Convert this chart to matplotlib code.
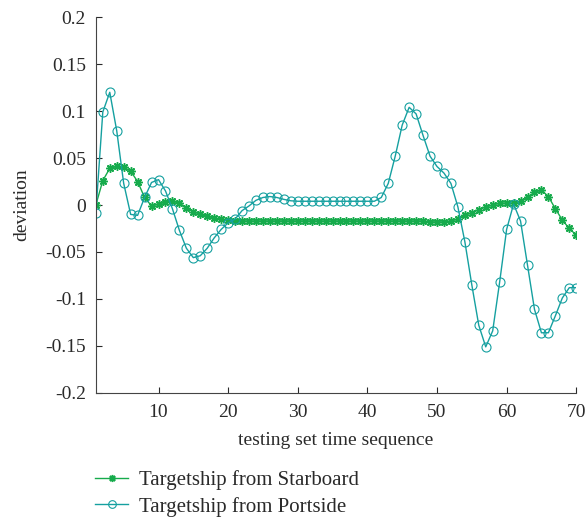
import matplotlib
matplotlib.use("Agg")
import matplotlib.pyplot as plt
import numpy as np

plt.rcParams['font.family'] = ['Liberation Serif', 'DejaVu Serif']

# testing set time sequence 1..70
seq = np.arange(1, 71)

starboard = [
    0.000, 0.026, 0.039, 0.041, 0.040, 0.036, 0.025, 0.008, -0.001, 0.001,
    0.003, 0.004, 0.002, -0.003, -0.007, -0.010, -0.012, -0.014, -0.015, -0.016,
    -0.0165, -0.017, -0.017, -0.017, -0.017, -0.017, -0.017, -0.017, -0.017, -0.017,
    -0.017, -0.017, -0.017, -0.017, -0.017, -0.017, -0.017, -0.017, -0.017, -0.017,
    -0.017, -0.017, -0.017, -0.017, -0.017, -0.017, -0.017, -0.017, -0.018, -0.018,
    -0.018, -0.017, -0.015, -0.011, -0.008, -0.005, -0.002, 0.000, 0.002, 0.002,
    0.002, 0.004, 0.008, 0.0135, 0.016, 0.009, -0.004, -0.016, -0.025, -0.032,
]

portside = [
    -0.008, 0.099, 0.120, 0.079, 0.023, -0.010, -0.011, 0.008, 0.024, 0.027,
    0.015, -0.004, -0.027, -0.046, -0.056, -0.054, -0.046, -0.035, -0.026, -0.019,
    -0.015, -0.006, -0.001, 0.005, 0.008, 0.009, 0.008, 0.006, 0.0045, 0.004,
    0.004, 0.004, 0.004, 0.004, 0.004, 0.004, 0.004, 0.004, 0.004, 0.004,
    0.004, 0.008, 0.023, 0.052, 0.085, 0.104, 0.097, 0.074, 0.052, 0.041,
    0.034, 0.023, -0.002, -0.039, -0.085, -0.128, -0.151, -0.134, -0.082, -0.026,
    0.001, -0.017, -0.064, -0.111, -0.136, -0.136, -0.118, -0.099, -0.088, -0.088,
]

green = '#16ab4c'
teal = '#15a0a0'
txt = '#2a2a2a'

fig = plt.figure(figsize=(5.88, 5.19), dpi=100)
ax = fig.add_axes([0.163, 0.243, 0.817, 0.724])

ax.plot(seq, starboard, color=green, lw=1.0, marker=(8, 2, 0), ms=6,
        mew=1.1, label='Targetship from Starboard')
ax.plot(seq, portside, color=teal, lw=1.0, marker='o', ms=6.5, mfc='none',
        mew=0.8, label='Targetship from Portside')

ax.set_xlim(1, 70)
ax.set_ylim(-0.2, 0.2)
ax.set_xticks([10, 20, 30, 40, 50, 60, 70])
ax.set_yticks(np.arange(-0.2, 0.201, 0.05))
ax.set_yticklabels(['-0.2', '-0.15', '-0.1', '-0.05', '0', '0.05', '0.1', '0.15', '0.2'])
ax.tick_params(direction='in', length=4, labelsize=14, colors=txt)
ax.tick_params(axis='x', pad=8)
ax.tick_params(axis='y', pad=7)
for s in ['top', 'right']:
    ax.spines[s].set_visible(False)
for s in ['left', 'bottom']:
    ax.spines[s].set_color('#444444')

ax.set_xlabel('testing set time sequence', fontsize=14, color=txt, labelpad=8)
ax.set_ylabel('deviation', fontsize=14, color=txt, labelpad=11)

leg = ax.legend(loc='upper left', bbox_to_anchor=(-0.002, -0.205), frameon=False,
                fontsize=15, handlelength=1.6, handletextpad=0.5, numpoints=1,
                labelspacing=0.33, borderaxespad=0, borderpad=0,
                labelcolor=txt, markerscale=0.85)

fig.savefig('out.png', dpi=100)
